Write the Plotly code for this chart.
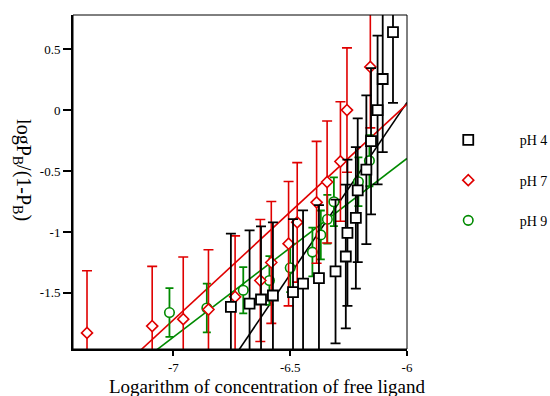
import plotly.graph_objects as go

# pH 4 (black squares)
x_ph4 = [-6.754, -6.674, -6.625, -6.574, -6.488, -6.445, -6.377, -6.306, -6.262,
         -6.255, -6.219, -6.211, -6.174, -6.154, -6.126, -6.104, -6.060]
y_ph4 = [-1.614, -1.587, -1.554, -1.521, -1.494, -1.423, -1.379, -1.324, -1.201,
         -1.007, -0.884, -0.658, -0.489, -0.255, 0.000, 0.255, 0.639]
e_ph4 = [0.60, 0.60, 0.60, 0.60, 0.60, 0.60, 0.60, 0.59, 0.59,
         0.60, 0.58, 0.59, 0.61, 0.60, 0.61, 0.60, 0.58]

# pH 7 (red diamonds)
x_ph7 = [-7.370, -7.091, -6.958, -6.850, -6.736, -6.628, -6.581, -6.507, -6.470,
         -6.387, -6.342, -6.285, -6.257, -6.157]
y_ph7 = [-1.828, -1.772, -1.715, -1.636, -1.532, -1.398, -1.250, -1.096, -0.921,
         -0.757, -0.590, -0.422, 0.000, 0.354]
e_ph7 = [0.51, 0.49, 0.51, 0.49, 0.50, 0.50, 0.50, 0.51, 0.49,
         0.50, 0.50, 0.49, 0.51, 0.50]

# pH 9 (green circles)
x_ph9 = [-7.017, -6.857, -6.701, -6.589, -6.500, -6.405, -6.369, -6.341, -6.313,
         -6.208, -6.161]
y_ph9 = [-1.661, -1.624, -1.478, -1.398, -1.294, -1.165, -1.024, -0.896, -0.752,
         -0.588, -0.415]
e_ph9 = [0.20, 0.20, 0.19, 0.20, 0.20, 0.20, 0.20, 0.20, 0.20, 0.20, 0.21]

# Linear fits (end points)
fit4_x = [-6.80, -6.00]
fit4_y = [-2.194, 0.063]
fit7_x = [-7.20, -6.00]
fit7_y = [-2.075, 0.049]
fit9_x = [-7.20, -6.00]
fit9_y = [-2.155, -0.397]

x_ticks = [-7, -6.5, -6]
x_ticktext = ["-7", "-6.5", "-6"]
y_ticks = [0.5, 0, -0.5, -1, -1.5]
y_ticktext = ["0.5", "0", "-0.5", "-1", "-1.5"]

series_names = ["pH 4", "pH 7", "pH 9"]

BLACK = "#000000"
RED = "#e00000"
GREEN = "#008a00"
FONT = "Liberation Serif"
PAD = "\u00a0" * 9  # widens the gap between legend key and label

fig = go.Figure()

for fx, fy, col in [(fit4_x, fit4_y, BLACK), (fit7_x, fit7_y, RED), (fit9_x, fit9_y, GREEN)]:
    fig.add_trace(go.Scatter(x=fx, y=fy, mode="lines", line=dict(color=col, width=1.6),
                             showlegend=False, hoverinfo="skip"))

fig.add_trace(go.Scatter(
    x=x_ph9, y=y_ph9, mode="markers", name=PAD + series_names[2], legendgroup="g9",
    legendrank=3,
    marker=dict(symbol="circle", size=9.5, color="white", line=dict(color=GREEN, width=1.6)),
    error_y=dict(type="data", array=e_ph9, color=GREEN, thickness=1.8, width=4)))

fig.add_trace(go.Scatter(
    x=x_ph7, y=y_ph7, mode="markers", name=PAD + series_names[1], legendgroup="g7",
    legendrank=2,
    marker=dict(symbol="diamond", size=8.5, color="white", line=dict(color=RED, width=1.6)),
    error_y=dict(type="data", array=e_ph7, color=RED, thickness=1.6, width=5)))

fig.add_trace(go.Scatter(
    x=x_ph4, y=y_ph4, mode="markers", name=PAD + series_names[0], legendgroup="g4",
    legendrank=1,
    marker=dict(symbol="square", size=10, color="white", line=dict(color=BLACK, width=1.8)),
    error_y=dict(type="data", array=e_ph4, color=BLACK, thickness=1.8, width=5)))

axis_common = dict(showgrid=False, zeroline=False, showline=True, linecolor="black",
                   linewidth=2, ticks="outside", tickwidth=1.6, tickcolor="black",
                   tickfont=dict(family=FONT, size=13, color="black"))

fig.update_xaxes(range=[-7.43, -6.0], tickvals=x_ticks, ticktext=x_ticktext,
                 ticklen=5, **axis_common)
fig.update_yaxes(range=[-1.96, 0.78], tickvals=y_ticks, ticktext=y_ticktext,
                 ticklen=8, **axis_common)

fig.update_layout(
    width=550, height=396,
    margin=dict(l=73, r=143, t=15, b=47),
    paper_bgcolor="white", plot_bgcolor="white",
    font=dict(family=FONT, color="black"),
    legend=dict(xref="container", yref="container", x=0.815, y=0.686,
                xanchor="left", yanchor="top",
                font=dict(family=FONT, size=14, color="black"),
                tracegroupgap=19, traceorder="grouped", borderwidth=0,
                bgcolor="rgba(0,0,0,0)"),
    shapes=[dict(type="rect", xref="paper", yref="paper", x0=0, x1=1, y0=0, y1=1,
                 line=dict(color="black", width=1))],
    annotations=[
        dict(text="Logarithm of concentration of free ligand", xref="paper", yref="paper",
             x=0.582, y=-0.1108, xanchor="center", yanchor="middle", showarrow=False,
             font=dict(family=FONT, size=19, color="black")),
        dict(text="logP<sub>B</sub>/(1-P<sub>B</sub>)", xref="paper", yref="paper",
             x=-0.153, y=0.536, xanchor="center", yanchor="middle", showarrow=False,
             textangle=90, font=dict(family=FONT, size=20, color="black")),
    ],
)

fig.write_html("out.html")
